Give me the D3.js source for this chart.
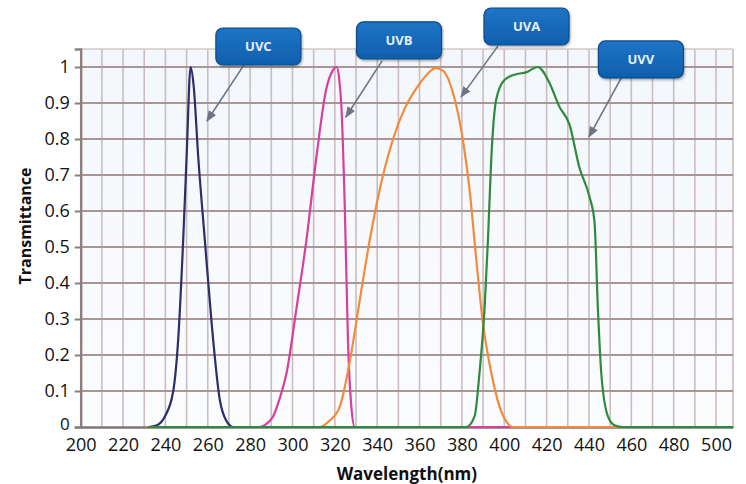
<!DOCTYPE html>
<html>
<head>
<meta charset="utf-8">
<script src="https://cdn.jsdelivr.net/npm/d3@7"></script>
<style>
  html, body { margin: 0; padding: 0; background: #ffffff; }
  svg { display: block; }
</style>
</head>
<body>
<svg id="chart" width="746" height="484"></svg>
<script>
// ---- data (wavelength nm, transmittance) ----
const uvc = [[232,0],[236,0.005],[239.8,0.03],[243.7,0.10],[246,0.24],[248.4,0.52],[250,0.75],[251.9,1.0],[253.3,0.95],[255.5,0.75],[258.6,0.52],[261.8,0.29],[265.7,0.075],[268.5,0.02],[272,0],[508,0]];
const uvb = [[232,0],[284.6,0],[288,0.01],[290.9,0.03],[294,0.08],[297.2,0.15],[301.9,0.33],[306.6,0.52],[311.3,0.75],[316,0.94],[319,0.99],[320.8,1.0],[322,0.97],[323.1,0.89],[324.7,0.61],[326.2,0.24],[327.8,0.056],[329.4,0],[508,0]];
const uva = [[232,0],[312.9,0],[317,0.015],[322.3,0.056],[327,0.18],[331.7,0.35],[336.5,0.52],[341.2,0.66],[347.5,0.80],[353,0.885],[359,0.945],[364,0.982],[367.5,0.997],[371,0.99],[375.7,0.93],[380.4,0.80],[383.6,0.66],[386.7,0.47],[389.9,0.29],[393.9,0.15],[397.8,0.056],[401,0.015],[404,0],[508,0]];
const uvv = [[232,0],[382.1,0],[386,0.03],[388.3,0.15],[390.7,0.33],[392.3,0.52],[393.9,0.75],[396.2,0.91],[400.1,0.964],[405.6,0.98],[410.3,0.985],[415.8,1.0],[421.4,0.955],[426,0.89],[430.8,0.84],[435.5,0.72],[440.2,0.64],[442.6,0.57],[444.2,0.33],[445.8,0.15],[448.9,0.03],[452,0.005],[456,0],[508,0]];

const seriesNames = ["UVC","UVB","UVA","UVV"];
const seriesData = [uvc, uvb, uva, uvv];
const seriesColors = ["#2d2c6c","#d63f9f","#f38a3c","#2f8a3e"];

// callouts: box centre (nm, T), arrow start (nm, T), arrow tip (nm, T)
const calloutBox   = [[283.9,1.057],[350.3,1.074],[410.5,1.1125],[464.5,1.021]];
const calloutStart = [[277.1,1.006],[342.3,1.017],[397.0,1.058],[457.5,0.994]];
const calloutTip   = [[259.6,0.850],[325.2,0.861],[379.6,0.917],[440.0,0.806]];

const xTicks = d3.range(200, 501, 20);
const xGrid = d3.range(200, 508, 10);
const yTicks = [0,0.1,0.2,0.3,0.4,0.5,0.6,0.7,0.8,0.9,1];
const xDomain = [200, 508];
const yDomain = [0, 1.05];

(function draw(){
const svg = d3.select("#chart");
const L = 80.7, R = 733, T = 49, B = 427;
const x = d3.scaleLinear().domain(xDomain).range([L, R]);
const y = d3.scaleLinear().domain(yDomain).range([B, T]);

const defs = svg.append("defs");
const bg = defs.append("linearGradient").attr("id","bg").attr("x1",0).attr("y1",0).attr("x2",0).attr("y2",1);
bg.append("stop").attr("offset","0%").attr("stop-color","#f3f7fc");
bg.append("stop").attr("offset","100%").attr("stop-color","#fbfcfe");
const boxG = defs.append("linearGradient").attr("id","boxg").attr("x1",0).attr("y1",0).attr("x2",0).attr("y2",1);
boxG.append("stop").attr("offset","0%").attr("stop-color","#1f74c6");
boxG.append("stop").attr("offset","100%").attr("stop-color","#0f5fae");
const mk = defs.append("marker").attr("id","arr").attr("viewBox","0 0 10 10").attr("refX",9).attr("refY",5)
  .attr("markerWidth",7).attr("markerHeight",7).attr("orient","auto-start-reverse");
mk.append("path").attr("d","M0,1 L10,5 L0,9 z").attr("fill","#6f7480");
const sh = defs.append("filter").attr("id","shadow").attr("x","-20%").attr("y","-20%").attr("width","140%").attr("height","150%");
sh.append("feDropShadow").attr("dx",1).attr("dy",1.5).attr("stdDeviation",1.2).attr("flood-color","#000").attr("flood-opacity",0.35);

svg.append("rect").attr("x",L).attr("y",T).attr("width",R-L).attr("height",B-T).attr("fill","url(#bg)");

svg.append("g").selectAll("line").data(xGrid).join("line")
  .attr("x1",d=>x(d)).attr("x2",d=>x(d)).attr("y1",T).attr("y2",B)
  .attr("stroke","#cbbdbd").attr("stroke-width",1.6);
svg.append("line").attr("x1",R).attr("x2",R).attr("y1",T).attr("y2",B)
  .attr("stroke","#cbbdbd").attr("stroke-width",1.6);
svg.append("line").attr("x1",L).attr("x2",R).attr("y1",T).attr("y2",T)
  .attr("stroke","#d3c8c8").attr("stroke-width",1.6);
svg.append("g").selectAll("line").data(yTicks.filter(d=>d>0)).join("line")
  .attr("x1",L).attr("x2",R).attr("y1",d=>y(d)).attr("y2",d=>y(d))
  .attr("stroke","#a99797").attr("stroke-width",2);

const yAxis = d3.axisLeft(y).tickValues(yTicks).tickSize(6).tickPadding(5)
  .tickFormat(d => d === 0 ? "0" : (d === 1 ? "1" : d3.format(".1f")(d)));
const gy = svg.append("g").attr("transform",`translate(${L},0)`).call(yAxis);
gy.select(".domain").attr("stroke","#8e7f7f").attr("stroke-width",2.4);
gy.selectAll(".tick line").attr("stroke","#8e7f7f").attr("stroke-width",2);
gy.selectAll("text").attr("font-family","'Open Sans', sans-serif").attr("font-size",18).attr("fill","#111").attr("dy","0.3em");
gy.selectAll(".tick").filter(d => d === 0).select("text").attr("dy","0.12em").attr("font-size",17);

const xAxis = d3.axisBottom(x).tickValues(xTicks).tickSize(0).tickPadding(11);
const gx = svg.append("g").attr("transform",`translate(0,${B})`).call(xAxis);
gx.select(".domain").attr("stroke","#7f7575").attr("stroke-width",2.4);
gx.selectAll("text").attr("font-family","'Open Sans', sans-serif").attr("font-size",18).attr("fill","#111");

const line = d3.line().x(d=>x(d[0])).y(d=>y(d[1])).curve(d3.curveMonotoneX);
svg.append("g").selectAll("path").data(seriesData).join("path")
  .attr("d", line).attr("fill","none")
  .attr("stroke",(d,i)=>seriesColors[i]).attr("stroke-width",2.2).attr("stroke-linejoin","round");

svg.append("text").attr("transform",`translate(31,${(T+B)/2 - 12}) rotate(-90)`)
  .attr("text-anchor","middle").attr("font-family","'Open Sans', sans-serif").attr("font-weight",700)
  .attr("font-size",16).attr("fill","#111").text("Transmittance");
svg.append("text").attr("x",(L+R)/2).attr("y",480)
  .attr("text-anchor","middle").attr("font-family","'Open Sans', sans-serif").attr("font-weight",700)
  .attr("font-size",17).attr("fill","#111").text("Wavelength(nm)");

const bw = 85, bh = 37;
const cg = svg.append("g");
seriesNames.forEach((name,i)=>{
  cg.append("line")
    .attr("x1",x(calloutStart[i][0])).attr("y1",y(calloutStart[i][1]))
    .attr("x2",x(calloutTip[i][0])).attr("y2",y(calloutTip[i][1]))
    .attr("stroke","#6f7480").attr("stroke-width",1.6).attr("marker-end","url(#arr)");
  const cx = x(calloutBox[i][0]), cy = y(calloutBox[i][1]);
  cg.append("rect").attr("x",cx-bw/2).attr("y",cy-bh/2).attr("width",bw).attr("height",bh)
    .attr("rx",7).attr("fill","url(#boxg)").attr("stroke","#0b4a8a").attr("stroke-width",1.2)
    .attr("filter","url(#shadow)");
  cg.append("text").attr("x",cx).attr("y",cy).attr("dy","0.36em").attr("text-anchor","middle")
    .attr("font-family","'Open Sans', sans-serif").attr("font-weight",700).attr("font-size",13)
    .attr("fill","#e8eef6").text(name);
});
})();
</script>
</body>
</html>
